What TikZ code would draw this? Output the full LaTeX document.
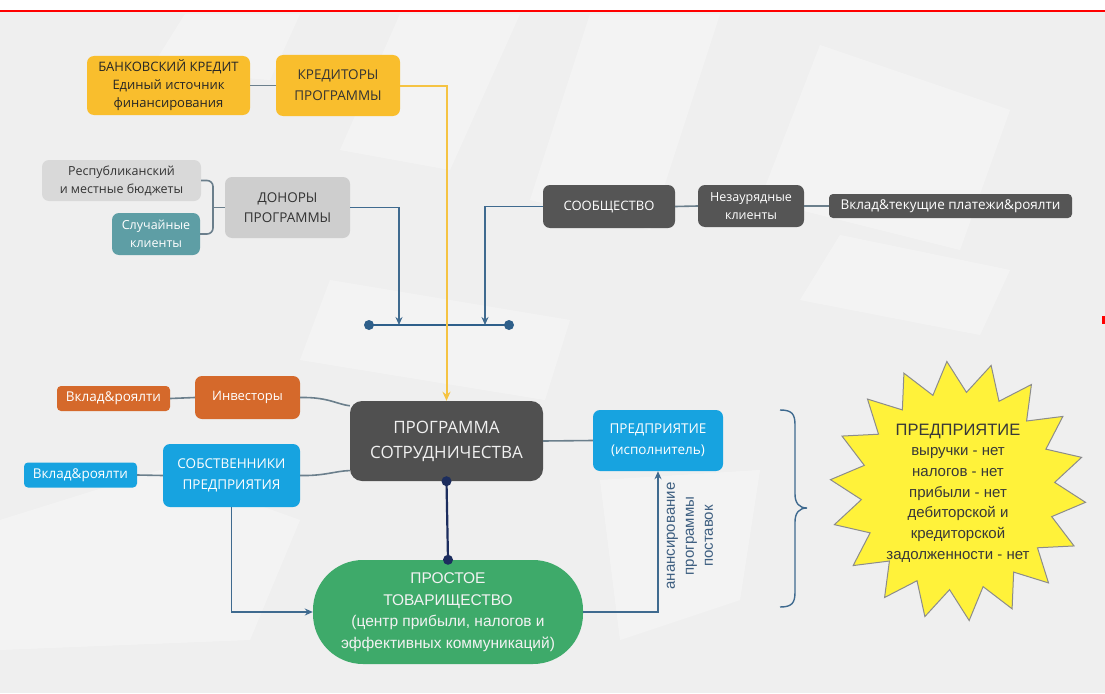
\documentclass[tikz,border=0pt]{standalone}
\usepackage{fontspec}
\setmainfont{Open Sans}
\newfontfamily\arialf{Liberation Sans}
\usetikzlibrary{arrows.meta,calc}
\definecolor{bgG}{HTML}{EFEFEF}
\definecolor{cY}{HTML}{F9BE2D}
\definecolor{cYl}{HTML}{F5C342}
\definecolor{cLG}{HTML}{D9D9D9}
\definecolor{cTeal}{HTML}{5E9EA5}
\definecolor{cDk}{HTML}{555555}
\definecolor{cProg}{HTML}{505050}
\definecolor{cO}{HTML}{D5692B}
\definecolor{cB}{HTML}{17A3E0}
\definecolor{cG}{HTML}{3EAA6A}
\definecolor{lnG}{HTML}{6B7F8C}
\definecolor{lnB}{HTML}{3F6A8F}
\definecolor{barB}{HTML}{2E5F8A}
\definecolor{navy}{HTML}{1C2D5E}
\definecolor{txtB}{HTML}{3D5E80}
\definecolor{starY}{HTML}{FFF23A}
\tikzset{
  box/.style={rounded corners=7pt, inner sep=0pt, align=center},
  ft/.style={font=\fontsize{12.5}{18}\selectfont},
  ftb/.style={font=\fontsize{13.5}{20.5}\selectfont},
  conn/.style={draw=lnG, line width=1.6pt},
  arr/.style={draw=lnB, line width=1.5pt, -{Stealth[length=8pt,width=7pt]}},
  band/.style={fill=white, opacity=0.3},
}
\begin{document}
\begin{tikzpicture}[x=1pt,y=-1pt]
\useasboundingbox (0,0) rectangle (1105,693);
% background
\fill[white] (0,0) rectangle (1105,11);
\fill[bgG] (0,11) rectangle (1105,693);
\fill[red] (0,10) rectangle (1105,12.5);
\fill[band] (185,14) -- (300,14) -- (270,80) -- (150,70) -- cycle;
\fill[band] (400,14) -- (520,14) -- (450,170) -- (340,150) -- cycle;
\fill[band] (590,14) -- (720,14) -- (650,230) -- (530,200) -- cycle;
\fill[band] (820,45) -- (1010,110) -- (960,250) -- (760,200) -- cycle;
\fill[band] (330,280) -- (570,320) -- (545,400) -- (300,360) -- cycle;
\fill[band] (0,520) -- (160,470) -- (300,520) -- (250,640) -- (0,650) -- cycle;
\fill[band] (840,235) -- (1010,270) -- (980,335) -- (800,300) -- cycle;
\fill[band] (600,480) -- (760,470) -- (740,600) -- (620,640) -- cycle;
\fill[red] (1102,316) rectangle (1105,324);

% top nodes
\node[box, fill=cY, minimum width=163, minimum height=59, text=black!85,
  font=\fontsize{13}{18}\selectfont] (bank) at (168.5,85.5)
  {БАНКОВСКИЙ КРЕДИТ\\Единый источник\\финансирования};
\node[box, fill=cY, minimum width=124, minimum height=61, text=black!80,
  font=\fontsize{13.5}{21}\selectfont] (kred) at (338,85.5) {КРЕДИТОРЫ\\ПРОГРАММЫ};
\node[box, fill=cLG, minimum width=159, minimum height=41, text=black!80, ft] (rep) at (121.5,180.5)
  {Республиканский\\и местные бюджеты};
\node[box, fill=cTeal, minimum width=88, minimum height=42, text=white, ft] (sl) at (156,234)
  {Случайные\\клиенты};
\node[box, fill=cLG!95!black, minimum width=125, minimum height=61, text=black!80, ftb] (don) at (287.5,207.5)
  {ДОНОРЫ\\ПРОГРАММЫ};
\node[box, fill=cDk, minimum width=132, minimum height=43, text=white, font=\fontsize{13}{18}\selectfont] (soob) at (609,206.5)
  {СООБЩЕСТВО};
\node[box, fill=cDk, minimum width=106, minimum height=42, text=white, ft] (nez) at (751,206)
  {Незаурядные\\клиенты};
\node[box, rounded corners=4pt, fill=cDk, minimum width=243, minimum height=24, text=white,
  font=\fontsize{13.5}{18}\selectfont] (vtp) at (950.5,206)
  {Вклад\&текущие платежи\&роялти};

% middle nodes
\node[box, rounded corners=4pt, fill=cO, minimum width=113, minimum height=25, text=white,
  font=\fontsize{13.5}{18}\selectfont] (vo) at (113.5,398.5)
  {Вклад\&роялти};
\node[box, fill=cO, minimum width=105, minimum height=43, text=white, font=\fontsize{13}{18}\selectfont] (inv) at (247.5,397.5)
  {Инвесторы};
\node[box, rounded corners=12pt, fill=cProg, minimum width=193, minimum height=80, text=white!94!black,
  font=\fontsize{17}{25}\selectfont] (prog) at (446.5,441)
  {ПРОГРАММА\\СОТРУДНИЧЕСТВА};
\node[box, rounded corners=4pt, fill=cB, minimum width=113, minimum height=25, text=white,
  font=\fontsize{13.5}{18}\selectfont] (vb) at (80.5,475)
  {Вклад\&роялти};
\node[box, fill=cB, minimum width=137, minimum height=63, text=white, font=\fontsize{13.5}{21}\selectfont] (sob) at (231.5,475.5)
  {СОБСТВЕННИКИ\\ПРЕДПРИЯТИЯ};
\node[box, fill=cB, minimum width=130, minimum height=61, text=white, font=\fontsize{13.5}{21}\selectfont] (pred) at (658,440.5)
  {ПРЕДПРИЯТИЕ\\(исполнитель)};
\node[box, rounded corners=50pt, fill=cG, minimum width=270, minimum height=104, text=white!95!black,
  font=\arialf\fontsize{15.5}{21.5}\selectfont] (prost) at (448,612)
  {ПРОСТОЕ\\ТОВАРИЩЕСТВО\\(центр прибыли, налогов и\\эффективных коммуникаций)};
\node[rotate=90, align=center, inner sep=0pt, text=txtB, font=\arialf\fontsize{15}{19}\selectfont] (fin) at (690,536)
  {анансирование\\программы\\поставок};

% junction bar
\coordinate (bL) at (369,325);
\coordinate (bR) at (509,325);
\coordinate (j1) at (399,325);
\coordinate (j2) at (485,325);
\draw[draw=barB, line width=1.8pt] (bL) -- (bR);
\fill[barB] (bL) circle (5);
\fill[barB] (bR) circle (5);

% connectors
\draw[conn] (bank.east) -- (kred.west);
\coordinate (dj) at (213,207.5);
\draw[conn, rounded corners=6pt] (rep.east) -- (213,180.5) -- (213,234) -- (sl.east);
\draw[conn] (dj) -- (don.west);
\draw[arr] (don.east) -| (j1);
\draw[arr] (soob.west) -| (j2);
\draw[conn] (soob.east) -- (nez.west);
\draw[conn] (nez.east) -- (vtp.west);
\draw[draw=cYl, line width=2pt, -{Stealth[length=9pt,width=8pt]}] (kred.east) -| (prog.north);
\draw[conn] (vo.east) -- (inv.west);
\draw[conn] (vb.east) -- (sob.west);
\draw[conn] (inv.east) .. controls (328,397) and (336,404) .. (prog.160);
\draw[conn] (sob.east) .. controls (325,476) and (335,471) .. (prog.197);
\draw[conn] (prog.east) -- (pred.west);
\draw[draw=navy, line width=2.2pt] (prog.south) -- (prost.north);
\fill[navy] (prog.south) circle (5);
\fill[navy] (prost.north) circle (5);
\draw[arr] (sob.south) |- (prost.west);
\draw[arr] (prost.east) -| (pred.south);

% brace
\draw[draw=lnB, line width=1.4pt] (780,410) .. controls (792,410) and (795,414) .. (795,425)
  -- (795,494) .. controls (795,503) and (799,508) .. (807,508)
  .. controls (799,508) and (795,513) .. (795,522)
  -- (795,592) .. controls (795,603) and (792,607) .. (780,607);

% star
\draw[fill=starY, draw=black!45, line width=1pt]
  plot[domain=0:35, samples=36, variable=\t]
  ({958+(97+31*(1-mod(\t,2)))*cos(\t*10+85)}, {491+(99+31*(1-mod(\t,2)))*sin(\t*10+85)}) -- cycle;
\node[align=center, inner sep=0pt, text=black!78, font=\arialf\fontsize{15}{20.7}\selectfont] (star) at (958,493)
  {{\fontsize{16.5}{20.7}\selectfont ПРЕДПРИЯТИЕ}\\выручки - нет\\налогов - нет\\прибыли - нет\\дебиторской и\\кредиторской\\задолженности - нет};
\end{tikzpicture}
\end{document}
